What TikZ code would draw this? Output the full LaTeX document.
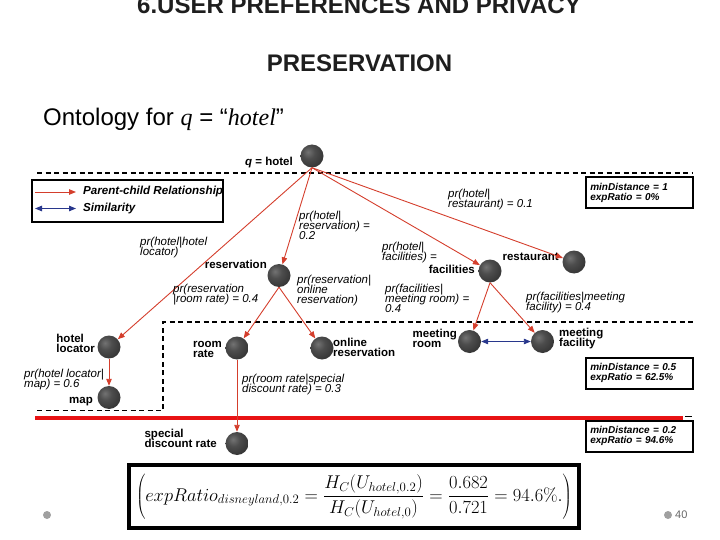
\documentclass[tikz,border=0pt]{standalone}
\usepackage[no-math]{fontspec}
\setmainfont{Liberation Sans}
\newfontfamily\serifit{Liberation Serif}
\usetikzlibrary{arrows.meta}
\definecolor{edgered}{RGB}{212,62,44}
\definecolor{simblue}{RGB}{40,55,140}
\definecolor{sepred}{RGB}{232,18,20}
\definecolor{titlegray}{RGB}{30,30,30}
\definecolor{bulletgray}{RGB}{160,160,160}
\pgfdeclareradialshading{darkball}{\pgfpoint{-9bp}{9bp}}{color(0bp)=(black!55); color(14bp)=(black!70); color(34bp)=(black!80); color(50bp)=(black!92); color(100bp)=(black!92)}
\newcommand\tp{\rule{0pt}{8pt}}
\newcommand\tightls{\lineskiplimit-20pt\relax}
\begin{document}
\begin{tikzpicture}[x=1pt,y=-1pt,
  ball/.style={circle, minimum size=23pt, inner sep=0pt, shade, shading=darkball},
  lbl/.style={inner sep=0pt, font={\fontsize{11.5}{10}\selectfont\bfseries\tightls}, align=left},
  prob/.style={inner sep=0pt, font={\fontsize{11.5}{10}\selectfont\itshape\tightls}, align=left},
  infobox/.style={draw=black, line width=1.6pt, fill=white, text width=98pt, inner xsep=4.5pt, inner ysep=0pt, minimum height=31pt, align=left, font={\fontsize{10}{10}\selectfont\bfseries\itshape\tightls}},
  pc/.style={draw=edgered, line width=0.9pt, -{Triangle[length=7pt,width=5.5pt]}},
  sim/.style={draw=simblue, line width=0.9pt, {Triangle[length=7pt,width=5.5pt]}-{Triangle[length=7pt,width=5.5pt]}},
  sepdash/.style={draw=black, line width=1.2pt, dash pattern=on 5pt off 3.5pt},
  bullet/.style={circle, fill=bulletgray, minimum size=8pt, inner sep=0pt}
]
\useasboundingbox (0,0) rectangle (720,540);

% titles
\node[anchor=base, inner sep=0pt, font=\fontsize{24}{28}\selectfont\bfseries, text=titlegray] (t1) at (359,14) {6.USER PREFERENCES AND PRIVACY};
\node[anchor=base, inner sep=0pt, font=\fontsize{24}{28}\selectfont\bfseries, text=titlegray] (t2) at (359.5,72) {PRESERVATION};
\node[anchor=base west, inner sep=0pt, font=\fontsize{24}{28}\selectfont] (t3) at (43,125.5) {Ontology for {\serifit\itshape q} = “{\serifit\itshape hotel}”};

% separators
\draw[sepdash] (37,173) -- (693,173);
\draw[sepdash] (37,410.5) -- (163,410.5) -- (163,322) -- (693,322);
\draw[draw=sepred, line width=4pt] (35,417.5) -- (683,417.5);
\draw[line width=1.5pt] (685,416.5) -- (692,416.5);

% legend
\node[draw=black, line width=1.2pt, minimum width=191pt, minimum height=42pt, inner sep=0pt] (legend) at (127.5,201) {};
\coordinate (la1) at (35,192);
\coordinate (la2) at (76,192);
\coordinate (lb1) at (35,208.5);
\coordinate (lb2) at (76,208.5);
\draw[pc] (la1) -- (la2);
\draw[sim] (lb1) -- (lb2);
\node[anchor=west, inner sep=0pt, font=\fontsize{11.6}{12}\selectfont\bfseries\itshape] (lt1) at (83,192) {Parent-child Relationship};
\node[anchor=west, inner sep=0pt, font=\fontsize{11.6}{12}\selectfont\bfseries\itshape] (lt2) at (83,208.5) {Similarity};

% info boxes
\node[infobox] (b1) at (639.3,192.8) {minDistance = 1\\expRatio = 0\%};
\node[infobox] (b2) at (639.3,373.2) {minDistance = 0.5\\expRatio = 62.5\%};
\node[infobox] (b3) at (639.3,436.3) {minDistance = 0.2\\expRatio = 94.6\%};

% nodes
\node[ball] (hotel) at (312,156) {};
\node[ball] (res) at (279,275.5) {};
\node[ball] (fac) at (490,271) {};
\node[ball] (rest) at (574,262) {};
\node[ball] (loc) at (109,347) {};
\node[ball] (map) at (109,397.5) {};
\node[ball] (room) at (237,348) {};
\node[ball] (online) at (322,348) {};
\node[ball] (mroom) at (469.5,341.5) {};
\node[ball] (mfac) at (542.5,341.5) {};
\node[ball] (sdr) at (237,443.5) {};

% node labels
\node[lbl, anchor=north east] (l1) at (293,157) {\tp\textit{q} = hotel};
\node[lbl, anchor=north east] (l2) at (267,260) {\tp reservation};
\node[lbl, anchor=north east] (l3) at (475,265) {\tp facilities};
\node[lbl, anchor=north east] (l4) at (559,252) {\tp restaurant};
\node[lbl, anchor=north east] (l5) at (95,334) {\tp hotel\\locator};
\node[lbl, anchor=north east] (l6) at (93,395) {\tp map};
\node[lbl, anchor=north east] (l7) at (222,339) {\tp room\\rate};
\node[lbl, anchor=north west] (l8) at (333,338) {\tp online\\reservation};
\node[lbl, anchor=north east] (l9) at (457,329) {\tp meeting\\room};
\node[lbl, anchor=north west] (l10) at (559,328) {\tp meeting\\facility};
\node[lbl, anchor=north east] (l11) at (217,429) {\tp special\\discount rate};

% edges
\draw[pc] (hotel.south) -- (loc);
\draw[pc] (hotel.south) -- (res);
\draw[pc] (hotel.south) -- (fac);
\draw[pc] (hotel.south) -- (rest);
\draw[pc] (res.south) -- (room);
\draw[pc] (res.south) -- (online);
\draw[pc] (fac.south) -- (mroom);
\draw[pc] (fac.south) -- (mfac);
\draw[pc] (loc) -- (map);
\draw[pc] (room) -- (sdr);
\draw[sim] (mroom) -- (mfac);

% probability labels
\node[prob, anchor=north west] (p1) at (140,237) {\tp pr(hotel|hotel\\locator)};
\node[prob, anchor=north west] (p2) at (299,211) {\tp pr(hotel|\\reservation) =\\0.2};
\node[prob, anchor=north west] (p3) at (448,189) {\tp pr(hotel|\\restaurant) = 0.1};
\node[prob, anchor=north west] (p4) at (382,242) {\tp pr(hotel|\\facilities) =};
\node[prob, anchor=north west] (p5) at (297,275) {\tp pr(reservation|\\online\\reservation)};
\node[prob, anchor=north west] (p6) at (173,284) {\tp pr(reservation\\|room rate) = 0.4};
\node[prob, anchor=north west] (p7) at (385,284) {\tp pr(facilities|\\meeting room) =\\0.4};
\node[prob, anchor=north west] (p8) at (526,292) {\tp pr(facilities|meeting\\facility) = 0.4};
\node[prob, anchor=north west] (p9) at (24,369) {\tp pr(hotel locator|\\map) = 0.6};
\node[prob, anchor=north west] (p10) at (242,374) {\tp pr(room rate|special\\discount rate) = 0.3};

% formula
\node[draw=black, line width=4.5pt, minimum width=450pt, minimum height=63pt, inner sep=0pt, font=\fontsize{17.28}{20}\selectfont] (formula) at (354,496.5)
  {\scalebox{1.07}{$\displaystyle \left( expRatio_{disneyland,0.2} = \frac{H_C(U_{hotel,0.2})}{H_C(U_{hotel,0})} = \frac{0.682}{0.721} = 94.6\%. \right)$}};

% footer
\node[bullet] (fb1) at (47,515) {};
\node[bullet] (fb2) at (668,515) {};
\node[anchor=west, inner sep=0pt, font=\fontsize{11}{12}\selectfont, text=black!60] (pg) at (675,515) {40};
\end{tikzpicture}
\end{document}
